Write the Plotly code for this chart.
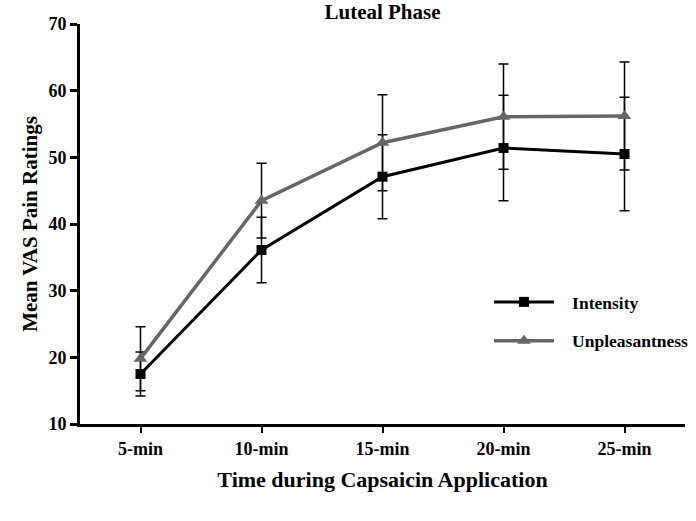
import plotly.graph_objects as go

categories = ["5-min", "10-min", "15-min", "20-min", "25-min"]
intensity = [17.5, 36.1, 47.1, 51.4, 50.5]
intensity_err = [3.3, 4.9, 6.3, 7.9, 8.5]
unpleasantness = [19.8, 43.5, 52.2, 56.1, 56.2]
unpleasantness_err = [4.8, 5.6, 7.2, 7.9, 8.1]
y_ticks = [10, 20, 30, 40, 50, 60, 70]
series_names = ["\u00a0\u00a0\u00a0Intensity", "\u00a0\u00a0\u00a0Unpleasantness"]

FONT = "Liberation Serif"

fig = go.Figure()
fig.add_trace(go.Scatter(
    x=categories, y=intensity, name=series_names[0], mode="lines+markers",
    line=dict(color="black", width=3),
    marker=dict(symbol="square", size=10, color="black"),
    error_y=dict(type="data", array=intensity_err, color="black", thickness=1.5, width=5),
    legendgroup="a",
))
fig.add_trace(go.Scatter(
    x=categories, y=unpleasantness, name=series_names[1], mode="lines+markers",
    line=dict(color="#6a6466", width=3.5),
    marker=dict(symbol="triangle-up", size=12, color="#6a6466"),
    error_y=dict(type="data", array=unpleasantness_err, color="black", thickness=1.5, width=5),
    legendgroup="b",
))

bold = dict(family=FONT, weight="bold", color="black")

fig.update_layout(
    width=696, height=521,
    margin=dict(l=80, r=11, t=24, b=97, autoexpand=False),
    paper_bgcolor="white", plot_bgcolor="white",
    font=dict(family=FONT, color="black", size=16),
    title=dict(text="Luteal Phase", x=0.5, xref="paper", y=1 - 12 / 521,
               yanchor="middle", font=dict(size=21, **bold)),
    showlegend=True,
    legend=dict(x=0.676, y=0.35, xanchor="left", yanchor="top",
                traceorder="grouped", tracegroupgap=13, itemwidth=60,
                font=dict(size=17.5, **bold), bgcolor="rgba(0,0,0,0)"),
    xaxis=dict(
        range=[-0.5, 4.5], showline=True, linecolor="black", linewidth=3,
        ticks="outside", ticklen=6, tickwidth=2, tickcolor="black",
        showgrid=False, zeroline=False, automargin=False,
        tickfont=dict(size=18, **bold),
        title=dict(text="Time during Capsaicin Application",
                   font=dict(size=22, **bold), standoff=15),
    ),
    yaxis=dict(
        range=[10, 70], tickvals=y_ticks, showline=True, linecolor="black", linewidth=3,
        ticks="outside", ticklen=7, tickwidth=3, tickcolor="black",
        showgrid=False, zeroline=False, automargin=False,
        tickfont=dict(size=18, **bold),
        title=dict(text="Mean VAS Pain Ratings",
                   font=dict(size=21, **bold), standoff=6),
    ),
)

fig.write_html("out.html", config={"displayModeBar": False},
               post_script="document.body.style.margin='0';")
